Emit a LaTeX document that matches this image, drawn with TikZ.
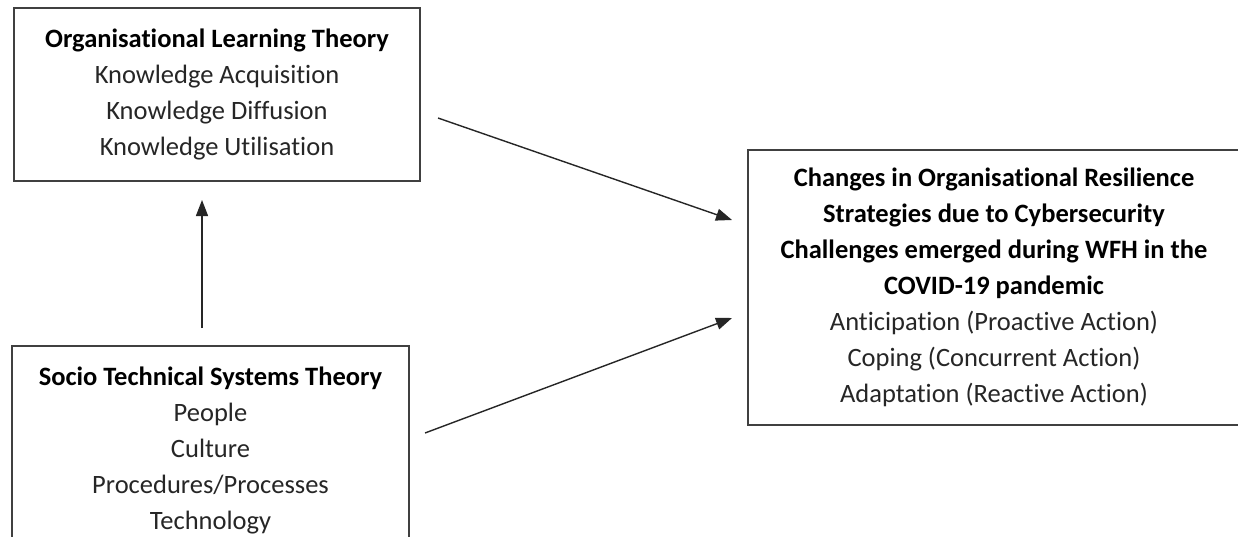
\documentclass[tikz,border=0pt]{standalone}
\usepackage{fontspec}
\setmainfont{Carlito}[Ligatures={NoCommon}]
\usetikzlibrary{arrows.meta}
\begin{document}
\begin{tikzpicture}[x=1pt,y=-1pt,
  box/.style={draw=black!75, line width=1.3pt, inner sep=0pt, align=center,
    font=\fontsize{26.5}{36}\selectfont, text=black!85},
  conn/.style={draw=black!85, line width=1.4pt, -{Triangle[length=16pt,width=12pt]}}]
\useasboundingbox (0,0) rectangle (1238,536);
\clip (0,0) rectangle (1238,536);
\fill[white] (0,0) rectangle (1238,536);
\node[box, minimum width=406pt, minimum height=173pt] (olt) at (217,94.5)
  {\textbf{\textcolor{black}{Organisational Learning Theory}}\\Knowledge Acquisition\\Knowledge Diffusion\\Knowledge Utilisation};
\node[box, minimum width=397pt, minimum height=209pt] (stst) at (210.5,450.5)
  {\textbf{\textcolor{black}{Socio Technical Systems Theory}}\\People\\Culture\\Procedures/Processes\\Technology};
\node[box, minimum width=492pt, minimum height=275pt] (cor) at (994,287.5)
  {\textbf{\textcolor{black}{Changes in Organisational Resilience}}\\
   \textbf{\textcolor{black}{Strategies due to Cybersecurity}}\\
   \textbf{\textcolor{black}{Challenges emerged during WFH in the}}\\
   \textbf{\textcolor{black}{COVID-19 pandemic}}\\
   Anticipation (Proactive Action)\\Coping (Concurrent Action)\\Adaptation (Reactive Action)};
\coordinate (a1s) at (438,118);
\coordinate (a1e) at (732,220);
\coordinate (a2s) at (425,433);
\coordinate (a2e) at (732,318);
\coordinate (a3s) at (202,328);
\coordinate (a3e) at (202,200);
\draw[conn] (a1s) -- (a1e);
\draw[conn] (a2s) -- (a2e);
\draw[conn] (a3s) -- (a3e);
\end{tikzpicture}
\end{document}
